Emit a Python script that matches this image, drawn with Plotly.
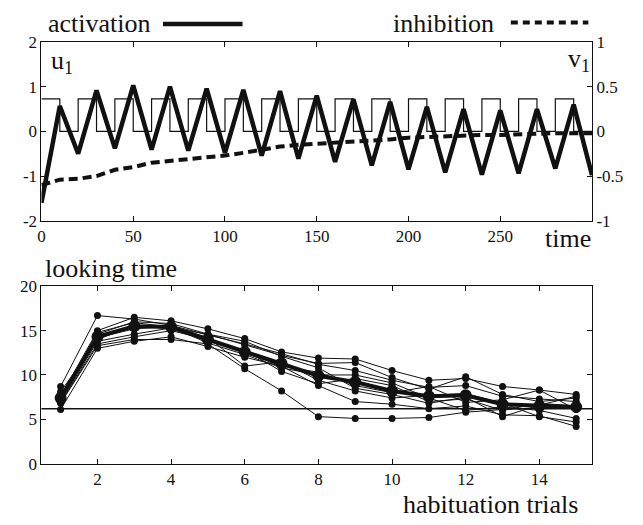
import plotly.graph_objects as go

# ---------------- data: top panel (time course) ----------------
time_pts = [0, 10, 20, 30, 40, 50, 60, 70, 80, 90, 100, 110, 120, 130, 140, 150,
            160, 170, 180, 190, 200, 210, 220, 230, 240, 250, 260, 270, 280, 290, 300]
stimulus = [0.73, 0, 0.73, 0, 0.73, 0, 0.73, 0, 0.73, 0, 0.73, 0, 0.73, 0, 0.73, 0,
            0.73, 0, 0.73, 0, 0.73, 0, 0.73, 0, 0.73, 0, 0.73, 0, 0.73, 0, 0]
activation = [-1.6, 0.57, -0.5, 0.92, -0.38, 1.03, -0.41, 1.0, -0.43, 0.96, -0.48,
              0.93, -0.54, 0.9, -0.61, 0.8, -0.68, 0.72, -0.76, 0.66, -0.85, 0.55,
              -0.92, 0.5, -0.97, 0.47, -0.94, 0.5, -0.83, 0.6, -0.98]
inhibition = [-0.6, -0.54, -0.53, -0.5, -0.43, -0.4, -0.35, -0.33, -0.31, -0.3, -0.27,
              -0.24, -0.2, -0.17, -0.15, -0.14, -0.13, -0.12, -0.11, -0.09, -0.07, -0.06,
              -0.05, -0.05, -0.04, -0.04, -0.03, -0.03, -0.02, -0.02, -0.02]

u_ticks = [-2, -1, 0, 1, 2]
u_ticktext = ["-2", "-1", "0", "1", "2"]
v_ticks = [-1, -0.5, 0, 0.5, 1]
v_ticktext = ["-1", "-0.5", "0", "0.5", "1"]
time_ticks = [0, 50, 100, 150, 200, 250]

# ---------------- data: bottom panel (looking time) ----------------
trials = [1, 2, 3, 4, 5, 6, 7, 8, 9, 10, 11, 12, 13, 14, 15]
subj_1 = [8.7, 16.7, 16.3, 15.6, 14.5, 13.5, 12.4, 11.2, 10.5, 9.4, 8.6, 8.8, 7.6, 7.3, 7.0]
subj_2 = [6.8, 13.3, 14.0, 14.0, 13.5, 10.7, 8.2, 5.3, 5.1, 5.1, 5.2, 5.8, 6.1, 6.3, 6.4]
subj_3 = [7.6, 15.0, 16.5, 16.1, 15.2, 14.1, 12.6, 11.9, 11.8, 10.5, 9.4, 9.6, 8.7, 8.3, 7.8]
subj_4 = [7.2, 14.6, 16.0, 15.8, 14.6, 13.4, 12.2, 11.3, 11.4, 9.7, 8.4, 9.8, 7.8, 7.0, 7.4]
subj_5 = [6.1, 13.0, 13.8, 14.3, 13.2, 12.0, 11.0, 8.8, 7.0, 6.7, 6.2, 6.5, 5.5, 5.4, 4.2]
subj_6 = [7.8, 14.2, 15.2, 15.5, 14.2, 11.0, 11.5, 9.4, 8.2, 7.4, 7.7, 7.9, 6.8, 5.3, 4.7]
subj_7 = [8.1, 14.0, 15.6, 15.2, 13.8, 12.8, 10.4, 9.0, 9.6, 8.8, 7.0, 7.3, 6.0, 6.8, 6.5]
subj_8 = [6.9, 13.5, 14.3, 15.0, 14.0, 12.5, 11.0, 10.3, 8.8, 8.0, 8.7, 6.9, 7.2, 8.3, 6.1]
subj_9 = [7.4, 14.8, 15.9, 15.4, 13.6, 12.3, 10.8, 10.0, 10.0, 9.1, 7.4, 6.0, 6.4, 6.0, 5.1]
subj_10 = [7.0, 13.8, 14.6, 15.3, 14.6, 13.8, 12.1, 10.8, 8.5, 7.8, 6.8, 7.5, 5.3, 6.6, 7.6]
subjects = [subj_1, subj_2, subj_3, subj_4, subj_5, subj_6, subj_7, subj_8, subj_9, subj_10]
mean_looking = [7.4, 14.3, 15.5, 15.4, 14.0, 12.6, 11.3, 9.9, 9.2, 8.2, 7.6, 7.7, 6.7, 6.5, 6.4]
criterion = 6.2
looking_ticks = [0, 5, 10, 15, 20]
trial_ticks = [2, 4, 6, 8, 10, 12, 14]

# ---------------- figure ----------------
W, H = 643, 525
FONT = "Liberation Serif"
BLACK = "#111111"

def px_x(p):
    return p / W

def px_y(p):
    return 1 - p / H

fig = go.Figure()

fig.add_trace(go.Scatter(x=time_pts, y=stimulus, mode="lines", line_shape="hv",
                         line=dict(color=BLACK, width=1.2), xaxis="x", yaxis="y",
                         showlegend=False, hoverinfo="skip"))
fig.add_trace(go.Scatter(x=time_pts, y=inhibition, mode="lines",
                         line=dict(color=BLACK, width=4, dash="9px,5px"),
                         xaxis="x", yaxis="y2", showlegend=False))
fig.add_trace(go.Scatter(x=time_pts, y=activation, mode="lines",
                         line=dict(color=BLACK, width=4.5), xaxis="x", yaxis="y",
                         showlegend=False))

for s in subjects:
    fig.add_trace(go.Scatter(x=trials, y=s, mode="lines+markers",
                             line=dict(color=BLACK, width=1),
                             marker=dict(color=BLACK, size=7, symbol="circle"),
                             xaxis="x2", yaxis="y3", showlegend=False))
fig.add_trace(go.Scatter(x=trials, y=mean_looking, mode="lines+markers",
                         line=dict(color=BLACK, width=4),
                         marker=dict(color=BLACK, size=12, symbol="circle"),
                         xaxis="x2", yaxis="y3", showlegend=False))

xdom = [px_x(37.7), px_x(591.7)]
axis_common = dict(showline=True, linecolor=BLACK, linewidth=1, ticks="inside",
                   ticklen=5, tickcolor=BLACK, showgrid=False, zeroline=False,
                   tickfont=dict(family=FONT, size=17, color=BLACK))

fig.update_layout(
    width=W, height=H,
    margin=dict(l=0, r=0, t=0, b=0),
    paper_bgcolor="white", plot_bgcolor="white",
    font=dict(family=FONT, color=BLACK),
    xaxis=dict(domain=xdom, anchor="y", range=[0, 300], tickvals=time_ticks,
               mirror="ticks", **axis_common),
    yaxis=dict(domain=[px_y(219.7), px_y(34.3)], anchor="x", range=[-2, 2],
               tickvals=u_ticks, ticktext=u_ticktext, mirror=True, **axis_common),
    yaxis2=dict(overlaying="y", anchor="x", side="right", range=[-1, 1],
                tickvals=v_ticks, ticktext=v_ticktext, **axis_common),
    xaxis2=dict(domain=xdom, anchor="y3", range=[0.48, 15.43], tickvals=trial_ticks,
                mirror="ticks", **axis_common),
    yaxis3=dict(domain=[px_y(471.7), px_y(287.7)], anchor="x2", range=[0, 20],
                tickvals=looking_ticks, mirror="ticks", **axis_common),
)

# criterion line
fig.add_shape(type="line", xref="x2 domain", yref="y3", x0=0, x1=1,
              y0=criterion, y1=criterion, line=dict(color=BLACK, width=1.5))

# legend samples
fig.add_shape(type="line", xref="paper", yref="paper", x0=px_x(160), x1=px_x(240),
              y0=px_y(15.5), y1=px_y(15.5), line=dict(color=BLACK, width=4.5))
fig.add_shape(type="line", xref="paper", yref="paper", x0=px_x(510), x1=px_x(588),
              y0=px_y(14), y1=px_y(14), line=dict(color=BLACK, width=4, dash="7px,5px"))

def label(text, x, y, xanchor, size=26):
    fig.add_annotation(text=text, x=x, y=y, xref="paper", yref="paper",
                       xanchor=xanchor, yanchor="middle", showarrow=False,
                       font=dict(family=FONT, size=size, color=BLACK))

label("activation", px_x(42), px_y(15), "left")
label("inhibition", px_x(389), px_y(15), "left")
label("u<sub>1</sub>", px_x(45), px_y(55), "left")
label("v<sub>1</sub>", px_x(592), px_y(53), "right")
label("time", px_x(593), px_y(238), "right")
label("looking time", px_x(39), px_y(269), "left")
label("habituation trials", px_x(580), px_y(514), "right")

fig.write_html("out.html")
